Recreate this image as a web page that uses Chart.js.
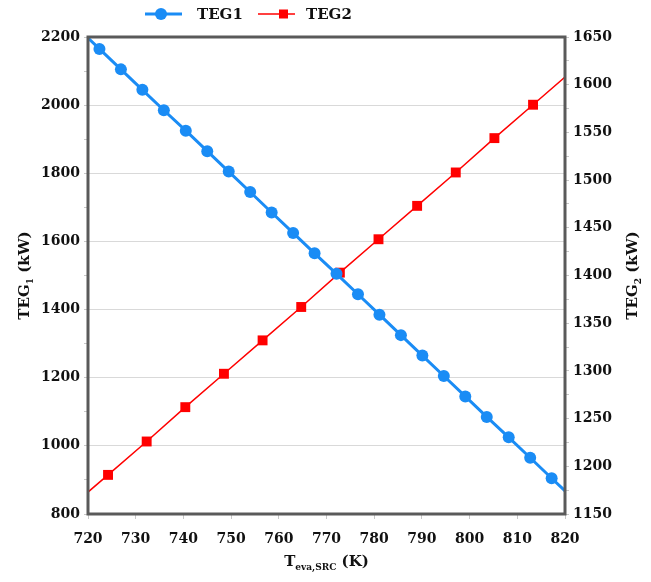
<!DOCTYPE html>
<html>
<head>
<meta charset="utf-8">
<script src="https://cdn.jsdelivr.net/npm/chart.js@4"></script>
<style>
html, body { margin: 0; padding: 0; background: #fff; }
</style>
</head>
<body>
<canvas id="teg_chart" width="651" height="582"></canvas>
<script>
// TEG1 (left axis) - evaporator temperature vs power
var teg1Temp = [720, 722.4, 726.9, 731.4, 735.9, 740.5, 745.0, 749.5, 754.0, 758.5, 763.0, 767.5,
    772.1, 776.6, 781.1, 785.6, 790.1, 794.6, 799.1, 803.6, 808.2, 812.7, 817.2, 820];
var teg1Power = [2197, 2165, 2105, 2045, 1985, 1925, 1865, 1805, 1745, 1685, 1625, 1565,
    1505, 1445, 1385, 1325, 1265, 1205, 1145, 1085, 1025, 965, 905, 868];

// TEG2 (right axis)
var teg2Temp = [720, 724.2, 732.3, 740.4, 748.5, 756.6, 764.7, 772.8, 780.9, 789.0, 797.1, 805.2, 813.3, 820];
var teg2Power = [1173, 1191, 1226, 1262, 1297, 1332, 1367, 1403, 1438, 1473, 1508, 1544, 1579, 1608];

// labelled ticks
var xTickLabels = [720, 730, 740, 750, 760, 770, 780, 790, 800, 810, 820];
var leftTickLabels = [800, 1000, 1200, 1400, 1600, 1800, 2000, 2200];
var rightTickLabels = [1150, 1200, 1250, 1300, 1350, 1400, 1450, 1500, 1550, 1600, 1650];

var BLUE = '#1a8cf5';
var RED = '#ff0000';
var FONT = '"DejaVu Serif", serif';

function toPoints(xs, ys) {
    return xs.map(function (x, i) { return { x: x, y: ys[i] }; });
}

// draw text with subscript pieces, centred on cx, baseline cy
function drawParts(ctx, parts, cx, cy, size) {
    var big = 'bold ' + size + 'px ' + FONT;
    var small = 'bold ' + Math.round(size * 0.62) + 'px ' + FONT;
    var total = 0;
    parts.forEach(function (p) {
        ctx.font = p[1] ? small : big;
        total += ctx.measureText(p[0]).width;
    });
    var x = cx - total / 2;
    ctx.textAlign = 'left';
    ctx.textBaseline = 'alphabetic';
    parts.forEach(function (p) {
        ctx.font = p[1] ? small : big;
        ctx.fillText(p[0], x, cy + (p[1] ? size * 0.28 : 0));
        x += ctx.measureText(p[0]).width;
    });
}

var framePlugin = {
    id: 'frame',
    afterDraw: function (chart) {
        var ctx = chart.ctx;
        var a = chart.chartArea;
        ctx.save();
        // plot frame
        ctx.strokeStyle = '#5a5a5a';
        ctx.lineWidth = 3;
        ctx.strokeRect(a.left, a.top, a.right - a.left, a.bottom - a.top);

        ctx.fillStyle = '#111';
        // axis titles
        drawParts(ctx, [['T', false], ['eva,SRC', true], [' (K)', false]], (a.left + a.right) / 2, 566, 15);

        ctx.save();
        ctx.translate(29, (a.top + a.bottom) / 2);
        ctx.rotate(-Math.PI / 2);
        drawParts(ctx, [['TEG', false], ['1', true], [' (kW)', false]], 0, 0, 15);
        ctx.restore();

        ctx.save();
        ctx.translate(637, (a.top + a.bottom) / 2);
        ctx.rotate(-Math.PI / 2);
        drawParts(ctx, [['TEG', false], ['2', true], [' (kW)', false]], 0, 0, 15);
        ctx.restore();

        // legend
        var ly = 14;
        ctx.strokeStyle = BLUE;
        ctx.lineWidth = 3;
        ctx.beginPath(); ctx.moveTo(145, ly); ctx.lineTo(182, ly); ctx.stroke();
        ctx.fillStyle = BLUE;
        ctx.beginPath(); ctx.arc(161, ly, 6, 0, Math.PI * 2); ctx.fill();

        ctx.strokeStyle = RED;
        ctx.lineWidth = 1.5;
        ctx.beginPath(); ctx.moveTo(258, ly); ctx.lineTo(295, ly); ctx.stroke();
        ctx.fillStyle = RED;
        ctx.fillRect(279, ly - 4.5, 9, 9);

        ctx.fillStyle = '#111';
        ctx.font = 'bold 15px ' + FONT;
        ctx.textAlign = 'left';
        ctx.textBaseline = 'middle';
        ctx.fillText('TEG1', 197, ly + 1);
        ctx.fillText('TEG2', 306, ly + 1);
        ctx.restore();
    }
};

var tickFont = { family: FONT, size: 14, weight: 'bold' };

var ctx = document.getElementById('teg_chart').getContext('2d');
var chart = new Chart(ctx, {
    type: 'line',
    data: {
        datasets: [{
            label: 'TEG1',
            data: toPoints(teg1Temp, teg1Power),
            yAxisID: 'y',
            borderColor: BLUE,
            backgroundColor: BLUE,
            borderWidth: 3,
            pointStyle: 'circle',
            pointRadius: function (c) {
                return (c.dataIndex === 0 || c.dataIndex === teg1Temp.length - 1) ? 0 : 6;
            },
            pointBorderWidth: 0,
            tension: 0
        }, {
            label: 'TEG2',
            data: toPoints(teg2Temp, teg2Power),
            yAxisID: 'y2',
            borderColor: RED,
            backgroundColor: RED,
            borderWidth: 1.5,
            pointStyle: 'rect',
            pointRadius: function (c) {
                return (c.dataIndex === 0 || c.dataIndex === teg2Temp.length - 1) ? 0 : 7;
            },
            pointBorderWidth: 0,
            tension: 0
        }]
    },
    options: {
        responsive: false,
        animation: false,
        layout: { padding: { top: 37, left: 0, right: 0, bottom: 0 } },
        plugins: {
            legend: { display: false },
            tooltip: { enabled: false }
        },
        scales: {
            x: {
                type: 'linear',
                min: xTickLabels[0],
                max: xTickLabels[xTickLabels.length - 1],
                ticks: { stepSize: 10, color: '#111', font: tickFont, padding: 12 },
                grid: { drawOnChartArea: false, tickColor: '#c8c8c8', tickLength: 5 },
                border: { display: false },
                afterFit: function (scale) { scale.height = 68; }
            },
            y: {
                position: 'left',
                min: leftTickLabels[0],
                max: leftTickLabels[leftTickLabels.length - 1],
                ticks: {
                    stepSize: 100,
                    color: '#111',
                    font: tickFont,
                    padding: 4,
                    callback: function (value) {
                        return leftTickLabels.indexOf(value) >= 0 ? String(value) : '';
                    }
                },
                grid: {
                    color: function (c) {
                        return (c.tick && leftTickLabels.indexOf(c.tick.value) >= 0) ? '#d9d9d9' : 'rgba(0,0,0,0)';
                    },
                    tickColor: '#c8c8c8',
                    tickLength: 4
                },
                border: { display: false },
                afterFit: function (scale) { scale.width = 88; }
            },
            y2: {
                position: 'right',
                min: rightTickLabels[0],
                max: rightTickLabels[rightTickLabels.length - 1],
                ticks: {
                    stepSize: 25,
                    color: '#111',
                    font: tickFont,
                    padding: 4,
                    callback: function (value) {
                        return rightTickLabels.indexOf(value) >= 0 ? String(value) : '';
                    }
                },
                grid: { drawOnChartArea: false, tickColor: '#c8c8c8', tickLength: 4 },
                border: { display: false },
                afterFit: function (scale) { scale.width = 86; }
            }
        }
    },
    plugins: [framePlugin]
});
</script>
</body>
</html>
